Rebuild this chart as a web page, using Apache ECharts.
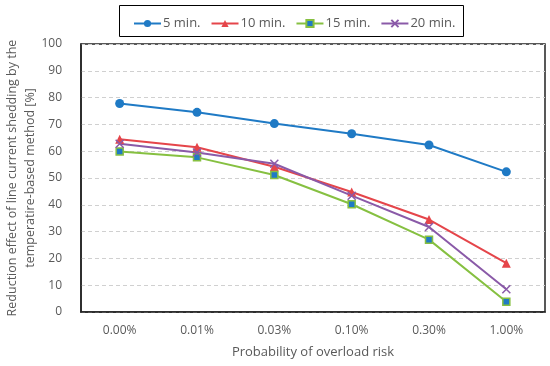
<!DOCTYPE html>
<html><head><meta charset="utf-8">
<script src="https://cdn.jsdelivr.net/npm/echarts@6/dist/echarts.min.js"></script>
<style>html,body{margin:0;padding:0;background:#fff}#c{width:550px;height:366px}</style>
</head><body><div id="c"></div>
<script>
const categories = ["0.00%", "0.01%", "0.03%", "0.10%", "0.30%", "1.00%"];
const s5 = [77.8, 74.5, 70.3, 66.5, 62.3, 52.3];
const s10 = [64.5, 61.5, 54.2, 44.8, 34.5, 18.2];
const s15 = [59.9, 57.7, 51.1, 40.2, 27.0, 3.8];
const s20 = [62.8, 59.5, 55.3, 43.4, 31.7, 8.5];
const seriesNames = ["5 min.", "10 min.", "15 min.", "20 min."];
const yTicks = [0, 10, 20, 30, 40, 50, 60, 70, 80, 90, 100];

const FONT = "'Open Sans', 'Liberation Sans', sans-serif";
const TXT = '#595959';
const xSym = 'path://M0,0L10,10M10,0L0,10';

const chart = echarts.init(document.getElementById('c'));
chart.setOption({
  animation: false,
  textStyle: {fontFamily: FONT, color: TXT},
  graphic: [{type: 'rect', shape: {x: 119.5, y: 5.5, width: 344, height: 31}, style: {fill: 'none', stroke: '#000', lineWidth: 1}}],
  legend: {
    top: 12, left: 128, itemWidth: 27, itemHeight: 9, itemGap: 10,
    textStyle: {fontFamily: FONT, fontSize: 13, color: TXT, padding: [0,0,0,-3]},
    data: seriesNames
  },
  grid: {left: 81, right: 5, top: 44, bottom: 54, show: true, borderColor: '#222', borderWidth: 1.5, containLabel: false, outerBoundsMode: 'none'},
  xAxis: {
    type: 'category', data: categories, boundaryGap: true,
    name: 'Probability of overload risk', nameLocation: 'middle', nameGap: 34, nameMoveOverlap: false,
    nameTextStyle: {fontFamily: FONT, fontSize: 13, color: TXT},
    axisLine: {lineStyle: {color: '#222', width: 1.5}},
    axisTick: {inside: true, length: 4, lineStyle: {color: '#222'}},
    axisLabel: {fontFamily: FONT, fontSize: 12, color: TXT, margin: 13},
    splitLine: {show: false}
  },
  yAxis: {
    type: 'value', min: yTicks[0], max: yTicks[yTicks.length-1], interval: 10,
    name: 'Reduction effect of line current shedding by the\ntemperatire-based method [%]',
    nameLocation: 'middle', nameGap: 42, nameMoveOverlap: false,
    nameTextStyle: {fontFamily: FONT, fontSize: 12.5, color: TXT, lineHeight: 18},
    axisLine: {show: true, lineStyle: {color: '#222', width: 1.5}},
    axisTick: {show: false},
    axisLabel: {fontFamily: FONT, fontSize: 12, color: TXT, margin: 19},
    splitLine: {lineStyle: {color: '#d0d0d0', type: [4, 3]}}
  },
  series: [
    {name: seriesNames[0], type: 'line', data: s5, symbol: 'circle', symbolSize: 9,
     lineStyle: {color: '#1f7ac5', width: 2}, itemStyle: {color: '#1f7ac5'}},
    {name: seriesNames[1], type: 'line', data: s10, symbol: 'triangle', symbolSize: 9,
     lineStyle: {color: '#e5454a', width: 2}, itemStyle: {color: '#e5454a'}},
    {name: seriesNames[2], type: 'line', data: s15, symbol: 'rect', symbolSize: 7,
     lineStyle: {color: '#86c041', width: 2}, itemStyle: {color: '#1f7ac5', borderColor: '#86c041', borderWidth: 1.5}},
    {name: seriesNames[3], type: 'line', data: s20, symbol: xSym, symbolSize: 8,
     lineStyle: {color: '#8a5aa8', width: 2}, itemStyle: {color: 'rgba(0,0,0,0)', borderColor: '#8a5aa8', borderWidth: 1.5}}
  ]
});
</script></body></html>
